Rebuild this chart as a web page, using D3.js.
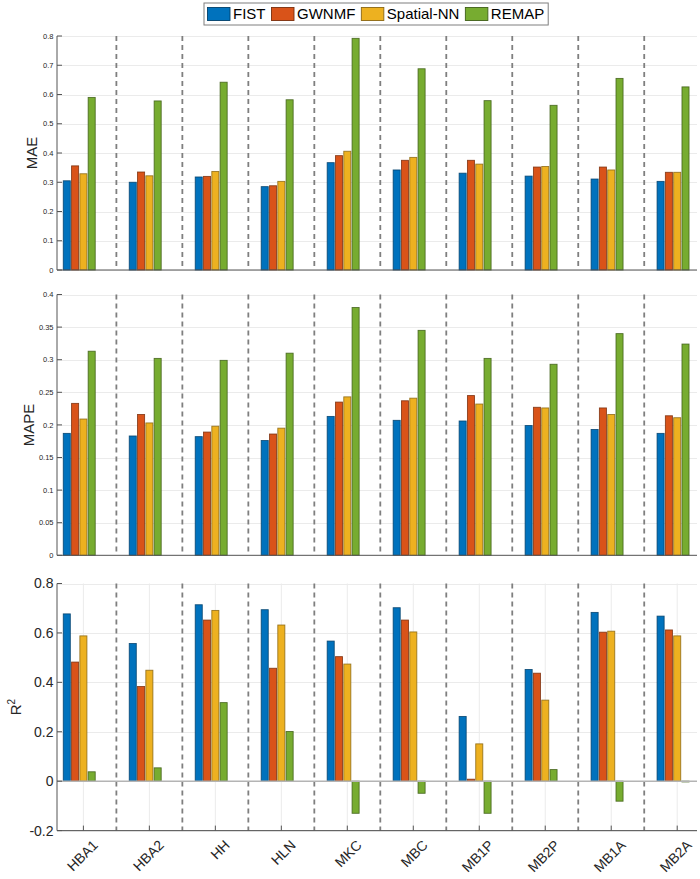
<!DOCTYPE html>
<html>
<head>
<meta charset="utf-8">
<script src="https://cdn.jsdelivr.net/npm/d3@7"></script>
<style>
  html, body { margin: 0; padding: 0; background: #ffffff; }
  svg { display: block; font-family: "Liberation Sans", Arial, Helvetica, sans-serif; }
</style>
</head>
<body>
<svg id="chart" width="700" height="879"></svg>
<script>
// ---------------- data ----------------
const categories = ["HBA1", "HBA2", "HH", "HLN", "MKC", "MBC", "MB1P", "MB2P", "MB1A", "MB2A"];
const seriesNames = ["FIST", "GWNMF", "Spatial-NN", "REMAP"];
const seriesColors = ["#0072BD", "#D95319", "#EDB120", "#77AC30"];
const seriesEdges = ["#00406b", "#7a2e0c", "#8a6612", "#3f5f18"];

// MAE per series (rows follow seriesNames)
const maeFIST  = [0.305, 0.300, 0.318, 0.285, 0.367, 0.342, 0.331, 0.321, 0.311, 0.303];
const maeGWNMF = [0.356, 0.335, 0.320, 0.288, 0.391, 0.375, 0.375, 0.352, 0.352, 0.334];
const maeSNN   = [0.329, 0.322, 0.337, 0.303, 0.406, 0.385, 0.362, 0.354, 0.342, 0.334];
const maeREMAP = [0.590, 0.578, 0.642, 0.582, 0.792, 0.688, 0.579, 0.563, 0.655, 0.626];

// MAPE per series
const mapeFIST  = [0.187, 0.183, 0.182, 0.176, 0.213, 0.207, 0.206, 0.199, 0.193, 0.187];
const mapeGWNMF = [0.233, 0.216, 0.189, 0.186, 0.235, 0.237, 0.245, 0.227, 0.226, 0.214];
const mapeSNN   = [0.209, 0.203, 0.198, 0.195, 0.243, 0.241, 0.232, 0.226, 0.216, 0.211];
const mapeREMAP = [0.313, 0.302, 0.299, 0.310, 0.380, 0.345, 0.302, 0.293, 0.340, 0.324];

// R^2 per series
const r2FIST  = [0.677, 0.557, 0.714, 0.694, 0.567, 0.702, 0.262, 0.452, 0.683, 0.668];
const r2GWNMF = [0.482, 0.383, 0.652, 0.457, 0.504, 0.652, 0.008, 0.437, 0.603, 0.612];
const r2SNN   = [0.588, 0.449, 0.691, 0.632, 0.474, 0.604, 0.151, 0.328, 0.607, 0.588];
const r2REMAP = [0.038, 0.054, 0.318, 0.201, -0.130, -0.049, -0.130, 0.047, -0.081, -0.003];

// tick values and labels
const maeTicks = [0, 0.1, 0.2, 0.3, 0.4, 0.5, 0.6, 0.7, 0.8];
const maeTickLabels = ["0", "0.1", "0.2", "0.3", "0.4", "0.5", "0.6", "0.7", "0.8"];
const mapeTicks = [0, 0.05, 0.1, 0.15, 0.2, 0.25, 0.3, 0.35, 0.4];
const mapeTickLabels = ["0", "0.05", "0.1", "0.15", "0.2", "0.25", "0.3", "0.35", "0.4"];
const r2Ticks = [-0.2, 0, 0.2, 0.4, 0.6, 0.8];
const r2TickLabels = ["-0.2", "0", "0.2", "0.4", "0.6", "0.8"];

// ---------------- layout ----------------
const svg = d3.select("#chart");
const axLeft = 57, axRight = 697;

const x = d3.scaleLinear().domain([0.6, 10.3]).range([axLeft, axRight]);
// 5 slots per group (MATLAB-like grouping), 4 used
const x1 = d3.scaleBand().domain([0, 1, 2, 3, 4]).range([-20.75, 20.75])
  .paddingInner(0.15).paddingOuter(0.075);

const panels = [
  { name: "MAE", data: [maeFIST, maeGWNMF, maeSNN, maeREMAP], domain: [0, 0.8], range: [270, 36],
    ticks: maeTicks, tickLabels: maeTickLabels, tickFont: 7.5, labelX: 37, xGrid: false, xLabels: false },
  { name: "MAPE", data: [mapeFIST, mapeGWNMF, mapeSNN, mapeREMAP], domain: [0, 0.4], range: [555.3, 294.5],
    ticks: mapeTicks, tickLabels: mapeTickLabels, tickFont: 7.5, labelX: 33.5, xGrid: false, xLabels: false },
  { name: "R2", data: [r2FIST, r2GWNMF, r2SNN, r2REMAP], domain: [-0.2, 0.8], range: [830.6, 583.5],
    ticks: r2Ticks, tickLabels: r2TickLabels, tickFont: 14, labelX: 20.5, xGrid: true, xLabels: true }
];

panels.forEach(p => {
  const y = d3.scaleLinear().domain(p.domain).range(p.range);
  const g = svg.append("g");
  const yTop = p.range[1], yBot = p.range[0];

  // horizontal grid
  g.selectAll(".hgrid").data(p.ticks).enter().append("line")
    .attr("x1", axLeft).attr("x2", axRight)
    .attr("y1", d => Math.round(y(d)) + 0.5).attr("y2", d => Math.round(y(d)) + 0.5)
    .attr("stroke", "#ebebeb").attr("stroke-width", 1);

  // vertical grid at categories
  if (p.xGrid) {
    g.selectAll(".vgrid").data(categories).enter().append("line")
      .attr("x1", (d, i) => x(i + 1)).attr("x2", (d, i) => x(i + 1))
      .attr("y1", yTop).attr("y2", yBot)
      .attr("stroke", "#ebebeb").attr("stroke-width", 1);
  }

  // separators (dashed)
  const seps = d3.range(1, categories.length);
  g.selectAll(".sep").data(seps).enter().append("line")
    .attr("x1", d => x(d + 0.5)).attr("x2", d => x(d + 0.5))
    .attr("y1", yTop).attr("y2", yBot)
    .attr("stroke", "#7f7f7f").attr("stroke-width", 1.8)
    .attr("stroke-dasharray", "5,4");

  // bars
  p.data.forEach((vals, s) => {
    g.selectAll(".bar" + s).data(vals).enter().append("rect")
      .attr("x", (d, i) => x(i + 1) + x1(s))
      .attr("width", x1.bandwidth())
      .attr("y", d => Math.min(y(d), y(0)))
      .attr("height", d => Math.abs(y(d) - y(0)))
      .attr("fill", seriesColors[s])
      .attr("stroke", seriesEdges[s])
      .attr("stroke-opacity", 0.85)
      .attr("stroke-width", 0.9);
  });

  // zero baseline for panels with negative values
  if (p.domain[0] < 0) {
    g.append("line")
      .attr("x1", axLeft).attr("x2", axRight)
      .attr("y1", y(0)).attr("y2", y(0))
      .attr("stroke", "#b4b4b4").attr("stroke-width", 1.6);
  }

  // axes lines
  g.append("line").attr("x1", axLeft).attr("x2", axLeft).attr("y1", yTop).attr("y2", yBot)
    .attr("stroke", "#555").attr("stroke-width", 1);
  g.append("line").attr("x1", axLeft).attr("x2", axRight).attr("y1", yBot).attr("y2", yBot)
    .attr("stroke", "#555").attr("stroke-width", 1);

  // y ticks (inward) and labels
  g.selectAll(".ytick").data(p.ticks).enter().append("line")
    .attr("x1", axLeft).attr("x2", axLeft + 5)
    .attr("y1", d => y(d)).attr("y2", d => y(d))
    .attr("stroke", "#555").attr("stroke-width", 1);
  g.selectAll(".ylab").data(p.ticks).enter().append("text")
    .attr("x", axLeft - 3.5)
    .attr("y", d => y(d))
    .attr("dy", "0.35em")
    .attr("text-anchor", "end")
    .attr("font-size", p.tickFont)
    .attr("fill", "#262626")
    .text((d, i) => p.tickLabels[i]);

  // x ticks + labels on bottom panel
  if (p.xLabels) {
    g.selectAll(".xtick").data(categories).enter().append("line")
      .attr("x1", (d, i) => x(i + 1)).attr("x2", (d, i) => x(i + 1))
      .attr("y1", yBot).attr("y2", yBot - 5)
      .attr("stroke", "#555").attr("stroke-width", 1);
    g.selectAll(".xlab").data(categories).enter().append("text")
      .attr("transform", (d, i) => `translate(${x(i + 1) + 8},${yBot + 8}) rotate(-45)`)
      .attr("text-anchor", "end")
      .attr("dy", "0.75em")
      .attr("font-size", 14)
      .attr("fill", "#262626")
      .text(d => d);
  }

  // y-axis title
  const cy = (yTop + yBot) / 2;
  const t = g.append("text")
    .attr("transform", `translate(${p.labelX},${cy}) rotate(-90)`)
    .attr("text-anchor", "middle")
    .attr("font-size", 15)
    .attr("fill", "#262626");
  if (p.name === "R2") {
    t.append("tspan").text("R");
    t.append("tspan").attr("font-size", 10).attr("dy", -6).text("2");
  } else {
    t.text(p.name);
  }
});

// ---------------- legend ----------------
const legend = svg.append("g");
const legBox = legend.append("rect")
  .attr("y", 3).attr("height", 22)
  .attr("fill", "#ffffff").attr("stroke", "#7f7f7f").attr("stroke-width", 1);
let cx = 207.5;
seriesNames.forEach((name, s) => {
  legend.append("rect")
    .attr("x", cx).attr("y", 7.5).attr("width", 22.5).attr("height", 13)
    .attr("fill", seriesColors[s]).attr("stroke", seriesEdges[s]).attr("stroke-width", 0.9);
  const tx = legend.append("text")
    .attr("x", cx + 25.5).attr("y", 14).attr("dy", "0.36em")
    .attr("font-size", 15).attr("fill", "#000").text(name);
  const w = tx.node().getComputedTextLength();
  cx = cx + 25.5 + w + 6;
});
legBox.attr("x", 204).attr("width", cx - 6 + 4 - 204);
</script>
</body>
</html>
